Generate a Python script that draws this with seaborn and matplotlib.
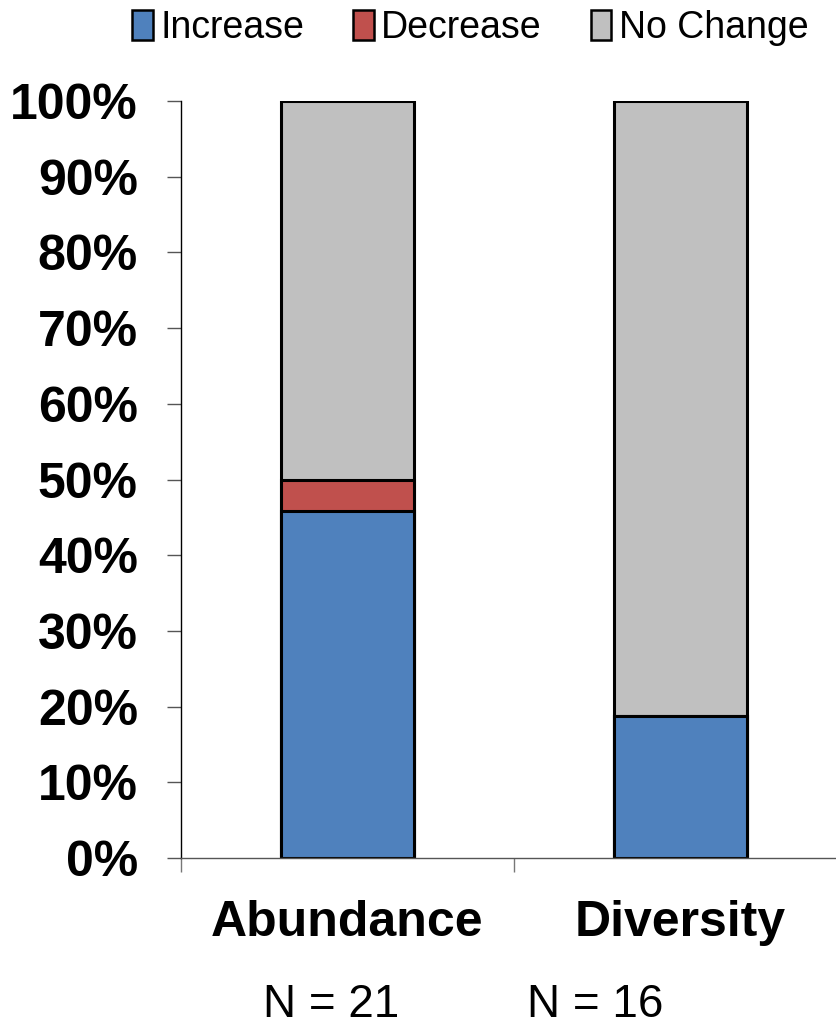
import numpy as np
import pandas as pd
import matplotlib
matplotlib.use("Agg")
import matplotlib.pyplot as plt
from matplotlib.patches import Patch
from matplotlib.ticker import FixedLocator, PercentFormatter
import seaborn as sns

# %%
categories = ["Abundance", "Diversity"]
n_labels = ["N = 21", "N = 16"]
increase = [45.8, 18.75]
decrease = [4.2, 0.0]
no_change = [50.0, 81.25]

series = ["Increase", "Decrease", "No Change"]
colors = {"Increase": "#4F81BD", "Decrease": "#C0504D", "No Change": "#C0C0C0"}

# %%
sns.set_style("white")
plt.rcParams["font.family"] = ["Liberation Sans", "DejaVu Sans"]
plt.rcParams["text.color"] = "black"
plt.rcParams["xtick.color"] = "black"
plt.rcParams["ytick.color"] = "black"

df = pd.DataFrame({"category": categories,
                   "Increase": increase,
                   "Decrease": decrease,
                   "No Change": no_change})
# cumulative tops so bars can be layered from the back
df["top_inc"] = df["Increase"]
df["top_dec"] = df["Increase"] + df["Decrease"]
df["top_all"] = df["top_dec"] + df["No Change"]

fig = plt.figure(figsize=(8.36, 10.31), dpi=100)
ax = fig.add_axes([0.2165, 0.1678, 0.7835, 0.7342])

for col, name in [("top_all", "No Change"), ("top_dec", "Decrease"), ("top_inc", "Increase")]:
    sns.barplot(data=df, x="category", y=col, color=colors[name], width=0.4,
                edgecolor="black", linewidth=2.2, saturation=1, ax=ax)

ax.set_ylim(0, 100)
ax.set_xlim(-0.5, 1.467)
ax.set_xlabel("")
ax.set_ylabel("")

ax.yaxis.set_major_locator(FixedLocator(np.arange(0, 101, 10)))
ax.yaxis.set_major_formatter(PercentFormatter(decimals=0))
ax.tick_params(axis="y", left=True, length=10, width=1, color="#555555",
               labelsize=36, pad=21)
for lab in ax.get_yticklabels():
    lab.set_fontweight("bold")

ax.set_xticks([0, 1])
ax.set_xticklabels(categories, fontsize=36, fontweight="bold")
ax.tick_params(axis="x", which="major", length=0, pad=30)
ax.xaxis.set_minor_locator(FixedLocator([-0.5, 0.5, 1.5]))
ax.tick_params(axis="x", which="minor", bottom=True, length=10, width=1, color="#777777")

sns.despine(ax=ax, top=True, right=True)
ax.spines["left"].set_color("black")
ax.spines["bottom"].set_color("#555555")
ax.spines["left"].set_linewidth(1)
ax.spines["bottom"].set_linewidth(1)

handles = [Patch(facecolor=colors[s], edgecolor="black", linewidth=1.8, label=s) for s in series]
fig.legend(handles=handles, loc="upper right", bbox_to_anchor=(0.985, 1.005), ncol=3,
           frameon=False, fontsize=27, handlelength=0.55, handleheight=0.85,
           handletextpad=0.2, columnspacing=1.3, borderaxespad=0)

fig.text(331 / 836, 1 - 1005 / 1031, n_labels[0], fontsize=33, ha="center", va="center")
fig.text(595 / 836, 1 - 1005 / 1031, n_labels[1], fontsize=33, ha="center", va="center")

fig.savefig("out.png", dpi=100)
